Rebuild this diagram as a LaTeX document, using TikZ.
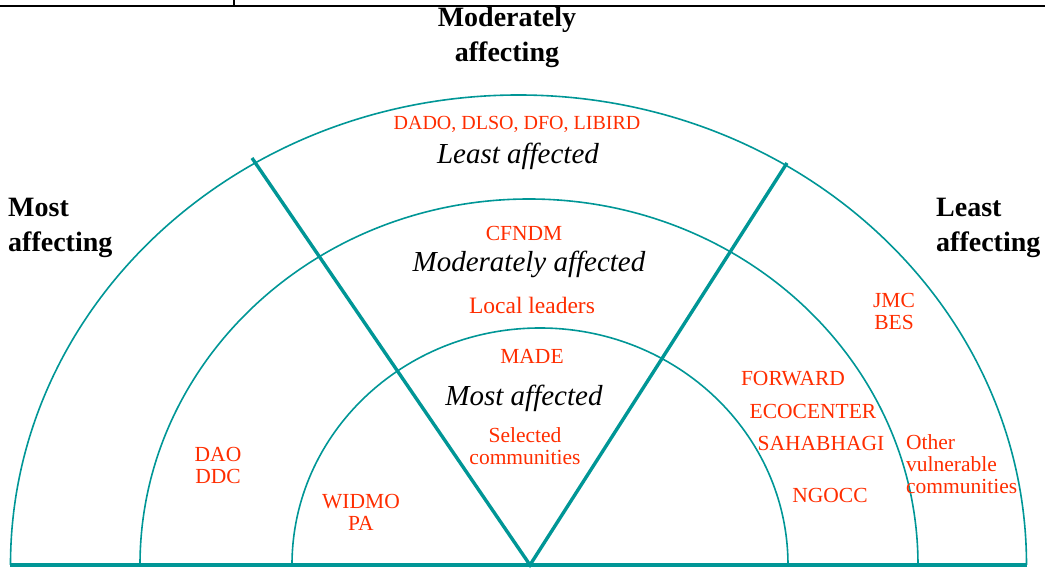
\documentclass[tikz,border=0pt]{standalone}
\usepackage{fontspec}
\setmainfont{Liberation Serif}
\usepackage{tikz}
\definecolor{ringteal}{RGB}{0,150,150}
\definecolor{actorred}{RGB}{255,45,0}

\begin{document}
\begin{tikzpicture}[x=1pt, y=1pt,
    ring/.style={draw=ringteal, line width=1.6pt},
    axis/.style={draw=ringteal, line width=3.4pt},
    actor/.style={text=actorred, inner sep=0pt, align=center,
      font=\fontsize{21.5}{22}\selectfont},
    level/.style={inner sep=0pt, align=center,
      font=\fontsize{29}{30}\itshape},
    side/.style={inner sep=0pt, align=left,
      font=\fontsize{28}{35}\bfseries}]
  \useasboundingbox (-530, -5) rectangle (515, 565);

  % frame rule at the top
  \coordinate (hl) at (-530, 559);
  \coordinate (hr) at (515, 559);
  \coordinate (tick) at (-296, 559);
  \draw[line width=2.2pt] (hl) -- (hr);
  \draw[line width=2pt] (tick) -- ++(0, 8);

  % rings
  \draw[ring] (496.5, 0) arc[start angle=0, end angle=180,
    x radius=508pt, y radius=470pt];
  \draw[ring] (388, 0) arc[start angle=0, end angle=180,
    x radius=389pt, y radius=366pt];
  \draw[ring] (258, 0) arc[start angle=0, end angle=180,
    x radius=248pt, y radius=237pt];

  \coordinate (apex) at (0, 0);
  \coordinate (ltop) at (-278, 407);
  \coordinate (rtop) at (257, 402);
  \coordinate (bl) at (-520, 0);
  \coordinate (br) at (497, 0);

  \draw[axis] (bl) -- (br);
  \draw[axis] (ltop) -- (apex) -- (rtop);

  % headings
  \node[side, align=center] (modaff) at (-23, 528) {Moderately\\affecting};
  \node[side, anchor=west] (mostaff) at (-522, 337) {Most\\affecting};
  \node[side, anchor=west] (leastaff) at (406, 337) {Least\\affecting};

  % levels
  \node[level] (least) at (-12, 409) {Least affected};
  \node[level] (moderate) at (-1, 301) {Moderately affected};
  \node[level] (most) at (-6, 167) {Most affected};

  % actors
  \node[actor, font=\fontsize{20}{22}\selectfont] (dado) at (-13, 441)
    {DADO, DLSO, DFO, LIBIRD};
  \node[actor] (cfndm) at (-6, 332) {CFNDM};
  \node[actor, font=\fontsize{23.5}{24}\selectfont] (leaders) at (2, 260)
    {Local leaders};
  \node[actor] (made) at (2, 209) {MADE};
  \node[actor] (selected) at (-5, 119) {Selected\\communities};
  \node[actor] (dao) at (-312, 100) {DAO\\DDC};
  \node[actor] (widmo) at (-169, 53) {WIDMO\\PA};
  \node[actor] (jmc) at (364, 254) {JMC\\BES};
  \node[actor] (forward) at (263, 186) {FORWARD};
  \node[actor] (ecocenter) at (283, 154) {ECOCENTER};
  \node[actor] (sahabhagi) at (291, 122) {SAHABHAGI};
  \node[actor] (ngocc) at (300, 70) {NGOCC};
  \node[actor, align=left, anchor=west] (others) at (376, 101)
    {Other\\vulnerable\\communities};
\end{tikzpicture}
\end{document}
